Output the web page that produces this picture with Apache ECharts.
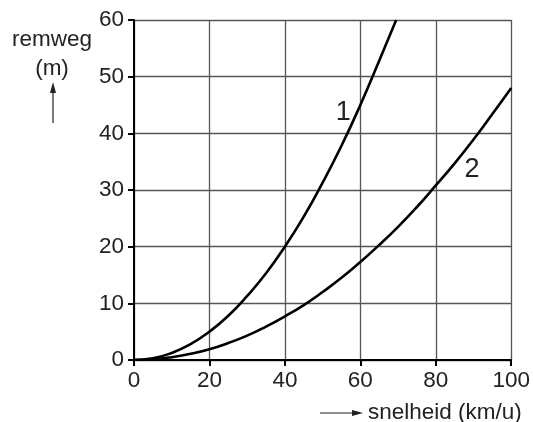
<!DOCTYPE html>
<html><head><meta charset="utf-8">
<script src="https://cdn.jsdelivr.net/npm/echarts@6/dist/echarts.min.js"></script>
<style>html,body{margin:0;padding:0;background:#fff}#c{width:533px;height:422px}</style>
</head><body><div id="c"></div>
<script>
var xTicks = [0, 20, 40, 60, 80, 100];
var yTicks = [0, 10, 20, 30, 40, 50, 60];
var curve1X = [0, 5, 10, 15, 20, 25, 30, 35, 40, 45, 50, 55, 60, 65, 69.5];
var curve1Y = [0, 0.3, 1.25, 2.8, 5, 7.8, 11.3, 15.3, 20, 25.3, 31.3, 37.8, 45, 52.8, 60];
var curve2X = [0, 5, 10, 15, 20, 25, 30, 35, 40, 45, 50, 55, 60, 65, 70, 75, 80, 85, 90, 95, 100];
var curve2Y = [0, 0.12, 0.5, 1.1, 1.9, 3, 4.3, 5.9, 7.7, 9.7, 12, 14.5, 17.3, 20.3, 23.5, 27, 30.8, 34.7, 38.9, 43.4, 48];
var curveNames = ['1', '2'];
var labelPos = [[55.5, 43.7], [89.6, 33.6]];

function pairs(xs, ys){ return xs.map(function(x,i){ return [x, ys[i]]; }); }

var chart = echarts.init(document.getElementById('c'));
var font = '"Liberation Sans", Arial, sans-serif';
var fs = 22.5;
chart.setOption({
  animation: false,
  grid: {left: 134, right: 21, top: 20, bottom: 62},
  xAxis: {
    type: 'value', min: 0, max: 100, interval: 20,
    axisLine: {show: true, onZero: false, lineStyle: {color: '#000', width: 2}},
    axisTick: {show: true, length: 6, lineStyle: {color: '#000', width: 2}},
    axisLabel: {color: '#222', fontSize: fs, fontFamily: font, margin: 9},
    splitLine: {show: true, lineStyle: {color: '#555', width: 1.3}}
  },
  yAxis: {
    type: 'value', min: 0, max: 60, interval: 10,
    axisLine: {show: true, onZero: false, lineStyle: {color: '#000', width: 2}},
    axisTick: {show: true, length: 6, lineStyle: {color: '#000', width: 2}},
    axisLabel: {color: '#222', fontSize: fs, fontFamily: font, margin: 10},
    splitLine: {show: true, lineStyle: {color: '#555', width: 1.3}}
  },
  series: [
    {
      type: 'line', name: curveNames[0], data: pairs(curve1X, curve1Y), smooth: true,
      showSymbol: false, lineStyle: {color: '#000', width: 2.6},
      markPoint: {symbolSize: 0, data: [{coord: labelPos[0], value: curveNames[0]}],
        label: {show: true, position: 'inside', formatter: curveNames[0], color: '#222', fontSize: 27, fontFamily: font}}
    },
    {
      type: 'line', name: curveNames[1], data: pairs(curve2X, curve2Y), smooth: true,
      showSymbol: false, lineStyle: {color: '#000', width: 2.6},
      markPoint: {symbolSize: 0, data: [{coord: labelPos[1], value: curveNames[1]}],
        label: {show: true, position: 'inside', formatter: curveNames[1], color: '#222', fontSize: 27, fontFamily: font}}
    }
  ],
  graphic: [
    {type: 'text', x: 52, y: 28, style: {text: 'remweg', align: 'center', verticalAlign: 'top', fill: '#222', fontSize: fs, fontFamily: font}},
    {type: 'text', x: 52, y: 57, style: {text: '(m)', align: 'center', verticalAlign: 'top', fill: '#222', fontSize: fs, fontFamily: font}},
    {type: 'line', shape: {x1: 53, y1: 123, x2: 53, y2: 90}, style: {stroke: '#222', lineWidth: 1.2}},
    {type: 'polygon', shape: {points: [[53, 82], [50, 93], [56, 93]]}, style: {fill: '#222'}},
    {type: 'text', x: 368, y: 401, style: {text: 'snelheid (km/u)', verticalAlign: 'top', fill: '#222', fontSize: fs, fontFamily: font}},
    {type: 'line', shape: {x1: 320, y1: 413, x2: 354, y2: 413}, style: {stroke: '#222', lineWidth: 1.2}},
    {type: 'polygon', shape: {points: [[363, 413], [352, 410], [352, 416]]}, style: {fill: '#222'}}
  ]
});
</script></body></html>
